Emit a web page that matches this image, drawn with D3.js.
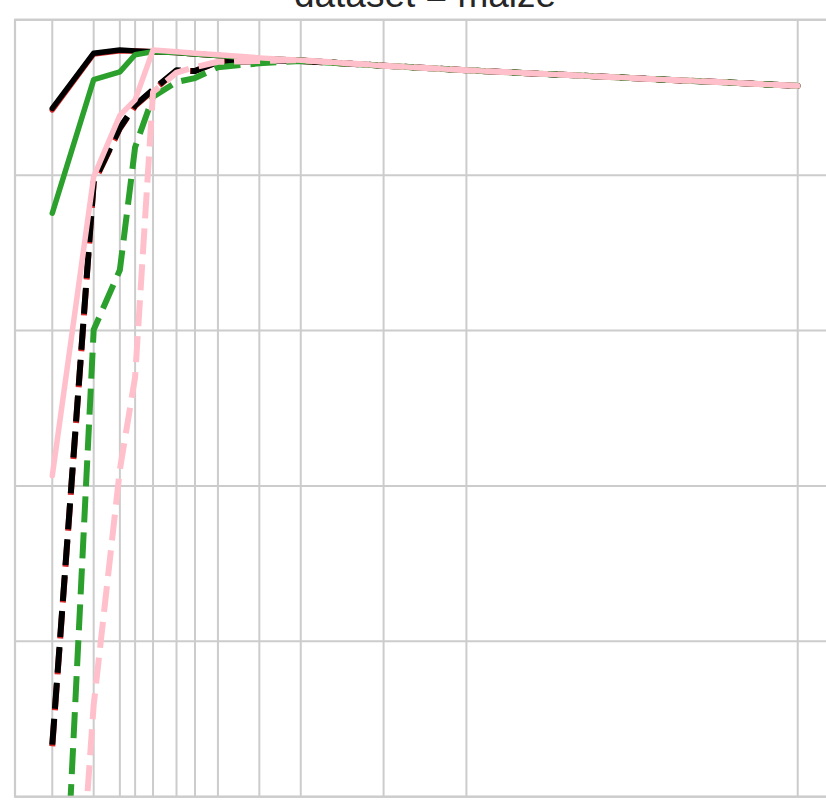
<!DOCTYPE html>
<html>
<head>
<meta charset="utf-8">
<script src="https://cdn.jsdelivr.net/npm/d3@7"></script>
<style>
  html, body { margin: 0; padding: 0; background: #fff; }
  svg { display: block; }
</style>
</head>
<body>
<div id="chart"></div>
<script>
/* facet "dataset = maize": score vs training size (log x), solid/dashed per model. D3 + SVG only. */
var TITLE = "dataset = maize";
var xs = [1, 2, 3.1, 4, 5.4, 8, 10.9, 16, 32, 64, 256, 1024, 262144];
var yTicks = [0, 0.2, 0.4, 0.6, 0.8, 1.0];

// series, in draw order (later ones sit on top)
var redSolid    = [0.884, 0.956, 0.960, 0.960, 0.959, 0.958, 0.956, 0.954, 0.950, 0.948, 0.941, 0.935, 0.915];
var redDashed   = [0.065, 0.790, 0.860, 0.889, 0.909, 0.934, 0.934, 0.946, 0.947, 0.947, 0.941, 0.935, 0.915];
var blackSolid  = [0.886, 0.957, 0.961, 0.960, 0.959, 0.958, 0.956, 0.954, 0.950, 0.948, 0.941, 0.935, 0.915];
var blackDashed = [0.067, 0.791, 0.861, 0.890, 0.910, 0.935, 0.934, 0.946, 0.947, 0.947, 0.941, 0.935, 0.915];
var greenSolid  = [0.751, 0.923, 0.933, 0.955, 0.959, 0.958, 0.956, 0.954, 0.950, 0.948, 0.941, 0.935, 0.915];
var greenDashed = [-0.48, 0.601, 0.678, 0.836, 0.901, 0.920, 0.925, 0.939, 0.944, 0.947, 0.941, 0.935, 0.915];
var pinkSolid   = [0.413, 0.798, 0.877, 0.897, 0.961, 0.959, 0.957, 0.955, 0.951, 0.948, 0.941, 0.935, 0.915];
var pinkDashed  = [-0.64, 0.118, 0.421, 0.540, 0.907, 0.932, 0.939, 0.946, 0.947, 0.948, 0.941, 0.935, 0.915];

(function () {
  "use strict";
  var W = 826, H = 811;
  var L = 15, R = 835, T = 19.8, B = 796.7;
  var GRID = "#cccccc";
  var DASH = "26,10";

  var series = [
    { v: redSolid,    c: "#d62728", dash: null },
    { v: redDashed,   c: "#d62728", dash: DASH },
    { v: blackSolid,  c: "#000000", dash: null },
    { v: blackDashed, c: "#000000", dash: DASH },
    { v: greenSolid,  c: "#2ca02c", dash: null },
    { v: greenDashed, c: "#2ca02c", dash: DASH },
    { v: pinkSolid,   c: "#ffc0cb", dash: null },
    { v: pinkDashed,  c: "#ffc0cb", dash: DASH }
  ];

  // matplotlib-style 5% margins in log space
  var lo = Math.log(xs[0]), hi = Math.log(xs[xs.length - 1]), pad = (hi - lo) * 0.05;
  var x = d3.scaleLog().domain([Math.exp(lo - pad), Math.exp(hi + pad)]).range([L, R]);
  var y = d3.scaleLinear().domain([0, 1]).range([B, T]);

  var svg = d3.select("#chart").append("svg").attr("width", W).attr("height", H)
    .attr("viewBox", "0 0 " + W + " " + H);
  svg.append("rect").attr("width", W).attr("height", H).attr("fill", "#fff");

  svg.append("defs").append("clipPath").attr("id", "plot")
    .append("rect").attr("x", L).attr("y", T).attr("width", R - L).attr("height", B - T);

  // grid
  var grid = svg.append("g");
  grid.selectAll("line.gx").data(xs).enter().append("line").attr("class", "gx")
    .attr("x1", function (d) { return x(d); }).attr("x2", function (d) { return x(d); })
    .attr("y1", T).attr("y2", B).attr("stroke", GRID).attr("stroke-width", 2);
  grid.selectAll("line.gy").data(yTicks).enter().append("line").attr("class", "gy")
    .attr("x1", L).attr("x2", R).attr("y1", function (d) { return y(d); }).attr("y2", function (d) { return y(d); })
    .attr("stroke", GRID).attr("stroke-width", 2);

  // lines
  var line = d3.line().x(function (d, i) { return x(xs[i]); }).y(function (d) { return y(d); });
  var lines = svg.append("g").attr("clip-path", "url(#plot)");
  series.forEach(function (s) {
    lines.append("path").attr("d", line(s.v)).attr("fill", "none")
      .attr("stroke", s.c).attr("stroke-width", s.dash ? 6 : 5.5)
      .attr("stroke-linejoin", "round")
      .attr("stroke-linecap", s.dash ? "butt" : "round")
      .attr("stroke-dasharray", s.dash);
  });

  // spines
  svg.append("rect").attr("x", L).attr("y", T).attr("width", R - L).attr("height", B - T)
    .attr("fill", "none").attr("stroke", GRID).attr("stroke-width", 2.2);

  svg.append("text").attr("x", (L + R) / 2).attr("y", 7).attr("text-anchor", "middle")
    .attr("font-family", "'Liberation Sans', Arial, sans-serif").attr("font-size", 37)
    .attr("fill", "#262626").text(TITLE);
})();
</script>
</body>
</html>
